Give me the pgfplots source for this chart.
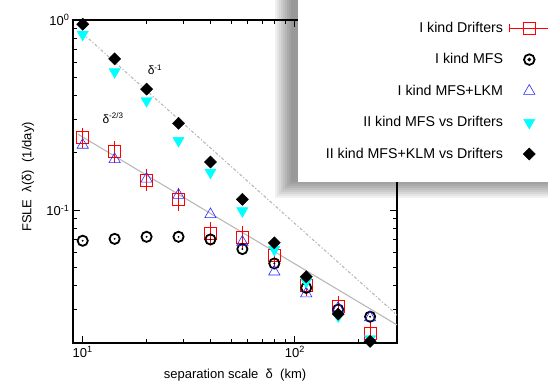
\documentclass[border=0pt]{standalone}
\usepackage{fontspec}
\setmainfont{Liberation Sans}
\usepackage{pgfplots}
\pgfplotsset{compat=1.18}
\definecolor{refgray}{gray}{0.72}
\definecolor{mycyan}{RGB}{0,255,255}
\definecolor{myblue}{RGB}{40,40,255}
\definecolor{myred}{RGB}{255,0,0}
\begin{document}
\begin{tikzpicture}
\path (0pt,0pt) rectangle (548pt,-384pt);
% soft shadow of the legend box
\foreach \i in {-8,-6,-4,-2,0,2,4,6,8} {
  \fill[black, opacity=0.055] (283pt-\i pt, 0pt) rectangle (548pt, -190pt-\i pt);
}
\begin{axis}[
  at={(73pt,-343pt)}, anchor=south west,
  scale only axis, width=324pt, height=323pt,
  xmode=log, ymode=log, xmin=9, xmax=303, ymin=0.02, ymax=1,
  xtick={10,100}, xticklabels={10\textsuperscript{1},10\textsuperscript{2}},
  minor xtick={20,30,40,50,60,70,80,90,200,300},
  ytick={0.1,1}, yticklabels={10\textsuperscript{-1},10\textsuperscript{0}},
  minor ytick={0.02,0.03,0.04,0.05,0.06,0.07,0.08,0.09,0.2,0.3,0.4,0.5,0.6,0.7,0.8,0.9},
  tick align=inside,
  major tick length=7pt, minor tick length=4pt,
  tick style={black, line width=0.9pt},
  axis line style={line width=1.3pt},
  tick label style={font=\fontsize{13}{15}\selectfont},
  label style={font=\fontsize{13}{15}\selectfont},
  xlabel={separation scale\ \ δ\ \ (km)},
  ylabel={FSLE\ \ λ(δ)\ \ (1/day)},
  xlabel style={at={(axis description cs:0.5,-0.099)}, anchor=center},
  ylabel style={at={(axis description cs:-0.139,0.514)}, anchor=center},
  legend plot pos=right,
  legend cell align=right,
  legend image code/.code={
    \path[draw=none,fill=none] (0pt,-1pt) rectangle (27pt,1pt);
    \draw[mark repeat=2,mark phase=2,#1] plot coordinates {(0pt,0pt) (8.5pt,0pt) (17pt,0pt)};},
  legend style={at={(axis description cs:1.4660,1.0619)}, anchor=north east,
    draw=none, fill=white, inner xsep=0pt, inner ysep=20pt, row sep=15.7pt, column sep=15.8pt,
    font=\fontsize{14.2}{16}\selectfont},
]
% reference lines
\addplot[refgray, line width=1.1pt, dash dot, forget plot] coordinates {(10,0.85) (303,0.02805)};
\addplot[refgray, line width=1.1pt, forget plot] coordinates {(9.5,0.2507) (303,0.02490)};

% I kind Drifters
\addplot[myred, line width=0.6pt, only marks, mark=square, mark size=6pt,
  error bars/.cd, y dir=both, y explicit, error mark=-, error mark options={myred, mark size=4pt, line width=0.6pt},
  error bar style={myred, line width=0.6pt},
  /pgfplots/legend image code/.code={
  \path[draw=none,fill=none] (0pt,-1pt) rectangle (27pt,1pt);
  \draw[myred, line width=0.6pt, overlay] (-11pt,0pt) -- (30pt,0pt);
  \draw[myred, line width=0.6pt, overlay] (-11pt,-4pt) -- (-11pt,4pt);
  \draw[myred, line width=0.6pt] (2.5pt,-6pt) rectangle (14.5pt,6pt);}]
  coordinates {
  (10,0.241) +- (0,0.018)
  (14.142,0.203) +- (0,0.017)
  (20,0.144) +- (0,0.012)
  (28.284,0.114) +- (0,0.010)
  (40,0.0754) +- (0,0.007)
  (56.569,0.0718) +- (0,0.007)
  (80,0.058) +- (0,0.005)
  (113.137,0.0403) +- (0,0.003)
  (160,0.0313) +- (0,0.0025)
  (226.274,0.0226) +- (0,0.002)
  };
\addlegendentry{I kind Drifters}

% I kind MFS
\addplot[black, line width=1.8pt, only marks, mark=o, mark size=5.1pt,
  legend image code/.code={
  \path[draw=none,fill=none] (0pt,-1pt) rectangle (27pt,1pt);
  \draw[black, line width=1.8pt] (8.5pt,0pt) circle (5.3pt);
  \fill[black] (8.5pt,0pt) circle (0.8pt);}]
  coordinates {(10,0.069) (14.142,0.0706) (20,0.0724) (28.284,0.0724) (40,0.0701) (56.569,0.0624) (80,0.0524) (113.137,0.039) (160,0.030) (226.274,0.0275)};
\addlegendentry{I kind MFS}
\addplot[black, only marks, mark=*, mark size=0.7pt, forget plot]
  coordinates {(10,0.069) (14.142,0.0706) (20,0.0724) (28.284,0.0724) (40,0.0701) (56.569,0.0624) (80,0.0524) (113.137,0.039) (160,0.030) (226.274,0.0275)};

% I kind MFS+LKM
\addplot[myblue, line width=0.6pt, only marks, mark=triangle, mark size=6.5pt]
  coordinates {(10,0.22) (14.142,0.185) (20,0.146) (28.284,0.12) (40,0.0949) (56.569,0.068) (80,0.0474) (113.137,0.0364) (160,0.0305) (226.274,0.0272)};
\addlegendentry{I kind MFS+LKM}

% II kind MFS vs Drifters
\addplot[mycyan, only marks, mark=triangle*, mark size=6.5pt, mark options={rotate=180, fill=mycyan, draw=mycyan}]
  coordinates {(10,0.84) (14.142,0.534) (20,0.376) (28.284,0.232) (40,0.158) (56.569,0.099) (80,0.062) (113.137,0.042) (160,0.0277) (226.274,0.021)};
\addlegendentry{II kind MFS vs Drifters}

% II kind MFS+KLM vs Drifters
\addplot[black, only marks, mark=square*, mark size=4.3pt, mark options={rotate=45, fill=black}]
  coordinates {(10,0.95) (14.142,0.625) (20,0.433) (28.284,0.286) (40,0.179) (56.569,0.114) (80,0.0673) (113.137,0.0446) (160,0.0284) (226.274,0.0204)};
\addlegendentry{\hspace*{26pt}II kind MFS+KLM vs Drifters}

\node[font=\fontsize{12}{14}\selectfont] at (axis cs:21.9,0.546) {δ\textsuperscript{-1}};
\node[font=\fontsize{12}{14}\selectfont] at (axis cs:13.9,0.305) {δ\textsuperscript{-2/3}};
\end{axis}
\end{tikzpicture}
\end{document}
